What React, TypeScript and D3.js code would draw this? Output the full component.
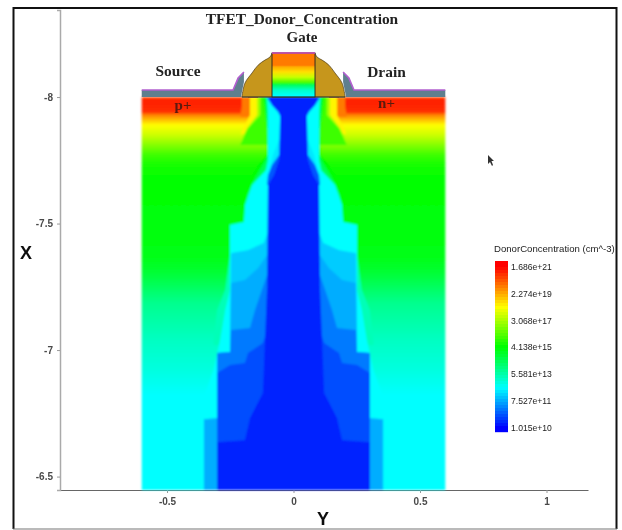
import React, { useEffect, useRef } from "react";
import * as d3 from "d3";

type Edge = [number, number][];

// color legend
const legendTitle = "DonorConcentration (cm^-3)";
const legendLabels = ["1.686e+21", "2.274e+19", "3.068e+17", "4.138e+15", "5.581e+13", "7.527e+11", "1.015e+10"];
const legendLogs = [21.227, 19.357, 17.487, 15.617, 13.747, 11.876, 10.006];
const rainbow = ["#0000ff", "#00ffff", "#00ff00", "#ffff00", "#ff0000"];

// concentration against depth, far from the channel
const bulkDepth = [-8, -7.988, -7.949, -7.941, -7.929, -7.909, -7.889, -7.85, -7.81, -7.771, -7.731, -7.672, -7.375, -7.308, -7.186, -7.04, -6.921, -6.822, -6.447];
const bulkLog = [20.33, 20.89, 20.75, 20.7, 19.8, 19.1, 18.42, 17.86, 17.07, 16.29, 15.84, 15.62, 15.4, 15.06, 14.05, 13.48, 13.15, 12.81, 12.81];

// concentration against depth inside the gate
const gateDepth = [-8.174, -8.126, -8.119, -8.099, -8.079, -8.059, -8.047, -8.028, -8.004];
const gateLog = [19.88, 19.88, 19.32, 18.76, 17.82, 16.51, 14.56, 13.42, 12.81];

// iso-concentration edges: [depth X, half width in Y]
const edgeOrange: Edge = [[-8, 0.2036], [-7.968, 0.2036], [-7.937, 0.208], [-7.921, 0.211]];
const edgeYellow: Edge = [[-8, 0.172], [-7.929, 0.172], [-7.877, 0.2], [-7.854, 0.208]];
const edgeLime: Edge = [[-8, 0.144], [-7.929, 0.144], [-7.877, 0.184], [-7.83, 0.208]];
const edgeSpringLime: Edge = [[-8, 0.132], [-7.929, 0.132], [-7.877, 0.18], [-7.81, 0.211]];
const edgeGreen: Edge = [[-8, 0.121], [-7.929, 0.113], [-7.877, 0.105], [-7.771, 0.105], [-7.731, 0.14], [-7.68, 0.172], [-7.632, 0.196], [-7.506, 0.2], [-7.498, 0.251], [-7.375, 0.251]];
const edgeSpring: Edge = [[-8, 0.113], [-7.87, 0.105], [-7.771, 0.101], [-7.731, 0.121], [-7.68, 0.152], [-7.613, 0.184], [-7.506, 0.196], [-7.498, 0.251], [-7.375, 0.251], [-7.296, 0.262], [-7.237, 0.27]];
const edgeSpringCyan: Edge = [[-7.498, 0.22], [-7.375, 0.251], [-7.237, 0.27], [-7.158, 0.302], [-7.04, 0.316], [-7.02, 0.316]];
const edgeCyan: Edge = [[-8, 0.105], [-7.929, 0.101], [-7.751, 0.101], [-7.711, 0.109], [-7.652, 0.164], [-7.573, 0.192], [-7.506, 0.196], [-7.494, 0.251], [-7.375, 0.251], [-7.237, 0.251], [-7.158, 0.27], [-7.04, 0.29], [-6.921, 0.316], [-6.822, 0.352]];
const edgePaleAzure: Edge = [[-7.83, 0.057], [-7.771, 0.081], [-7.68, 0.101], [-7.466, 0.101], [-7.423, 0.117], [-7.395, 0.18], [-7.383, 0.247]];
const edgeAzure: Edge = [[-7.466, 0.101], [-7.423, 0.117], [-7.395, 0.18], [-7.383, 0.247], [-6.992, 0.251], [-6.988, 0.302], [-6.731, 0.302], [-6.727, 0.354], [-6.447, 0.354]];
const edgeDeepAzure: Edge = [[-7.375, 0.105], [-7.324, 0.14], [-7.277, 0.192], [-7.265, 0.247], [-6.992, 0.251], [-6.988, 0.302], [-6.731, 0.302], [-6.727, 0.354], [-6.447, 0.354]];
const edgeBlue: Edge = [[-7.296, 0.105], [-7.237, 0.125], [-7.158, 0.152], [-7.087, 0.172], [-7.079, 0.247], [-6.992, 0.251], [-6.988, 0.302], [-6.909, 0.302]];
const edgeDeepBlue: Edge = [[-7.079, 0.105], [-7.028, 0.121], [-6.988, 0.18], [-6.949, 0.192], [-6.941, 0.251], [-6.909, 0.302], [-6.447, 0.302]];
const edgeNeck: Edge = [[-7.771, 0.057], [-7.731, 0.085], [-7.692, 0.101], [-7.652, 0.105]];
const edgeCore: Edge = [[-8, 0.105], [-7.968, 0.085], [-7.941, 0.061], [-7.925, 0.053], [-7.751, 0.057], [-7.692, 0.077], [-7.652, 0.101], [-7.237, 0.105], [-6.83, 0.121], [-6.731, 0.172], [-6.644, 0.192], [-6.636, 0.302], [-6.447, 0.302]];

const isoBands: { log: number; edge: Edge }[] = [
  { log: 19.88, edge: edgeOrange },
  { log: 18.53, edge: edgeYellow },
  { log: 17.41, edge: edgeLime },
  { log: 16.29, edge: edgeSpringLime },
  { log: 15.62, edge: edgeGreen },
  { log: 14.72, edge: edgeSpring },
  { log: 13.6, edge: edgeSpringCyan },
  { log: 12.81, edge: edgeCyan },
  { log: 12.55, edge: edgePaleAzure },
  { log: 12.25, edge: edgeAzure },
  { log: 11.91, edge: edgeDeepAzure },
  { log: 11.35, edge: edgeBlue },
  { log: 10.85, edge: edgeDeepBlue },
  { log: 10.95, edge: edgeNeck },
  { log: 10.36, edge: edgeCore },
];

// device outline, [depth X, half width in Y]
const spacerEdge: Edge = [[-8.174, 0.085], [-8.158, 0.093], [-8.146, 0.113], [-8.126, 0.14], [-8.095, 0.164], [-8.055, 0.192], [-8, 0.204]];
const oxideEdge: Edge = [[-8.028, 0.6], [-8.028, 0.239], [-8.075, 0.219], [-8.099, 0.196], [-8.059, 0.196], [-8.02, 0.204], [-8, 0.2075], [-8, 0.6]];
const gateHalfWidth = 0.085;
const gateTop = -8.174;
const deviceHalfWidth = 0.6;
const surface = -8;
const bottomX = -6.447;

export default function App() {
  const ref = useRef<SVGSVGElement>(null);

  useEffect(() => {
    const svg = d3.select(ref.current);
    svg.selectAll("*").remove();

    const xScale = d3.scaleLinear().domain([-0.923, 1.164]).range([60, 588]);
    const yScale = d3.scaleLinear().domain([-8.344, bottomX]).range([10, 490]);
    const color = d3.scaleLinear<string>()
      .domain(d3.range(5).map(i => 10.006 + (i * (21.227 - 10.006)) / 4))
      .range(rainbow)
      .clamp(true);

    const defs = svg.append("defs");
    defs.append("filter").attr("id", "soft").append("feGaussianBlur").attr("stdDeviation", 0.9);
    defs.append("filter").attr("id", "softText").append("feGaussianBlur").attr("stdDeviation", 0.3);

    const addGradient = (id: string, depth: number[], logs: number[]) => {
      const [y0, y1] = [yScale(depth[0]), yScale(depth[depth.length - 1])];
      defs.append("linearGradient")
        .attr("id", id)
        .attr("gradientUnits", "userSpaceOnUse")
        .attr("x1", 0).attr("x2", 0).attr("y1", y0).attr("y2", y1)
        .selectAll("stop")
        .data(depth)
        .join("stop")
        .attr("offset", d => (yScale(d) - y0) / (y1 - y0))
        .attr("stop-color", (d, i) => color(logs[i]));
    };
    addGradient("bulk", bulkDepth, bulkLog);
    addGradient("gate", gateDepth, gateLog);

    // frame of the screenshot
    svg.append("path").attr("d", "M13.5,529 V8 H616.5 V529")
      .attr("fill", "none").attr("stroke", "#111").attr("stroke-width", 2);
    svg.append("line").attr("x1", 13).attr("x2", 617).attr("y1", 529).attr("y2", 529)
      .attr("stroke", "#777").attr("stroke-width", 1.2);

    // axes
    const axisBottom = svg.append("g").attr("transform", `translate(0,${yScale.range()[1]})`)
      .call(d3.axisBottom(xScale).tickValues([-0.5, 0, 0.5, 1]).tickFormat(d3.format("~g") as any).tickSize(3).tickSizeOuter(0));
    const axisLeft = svg.append("g").attr("transform", `translate(${xScale.range()[0]},0)`)
      .call(d3.axisLeft(yScale).tickValues([-8, -7.5, -7, -6.5]).tickFormat(d3.format("~g") as any).tickSize(3));
    [axisBottom, axisLeft].forEach(a => {
      a.selectAll("text")
        .attr("font-family", "Liberation Sans")
        .attr("font-size", 10)
        .attr("font-weight", 700)
        .attr("fill", "#4a4a4a")
        .attr("filter", "url(#softText)")
        .text(function () { return d3.select(this).text().replace("\u2212", "-"); });
      a.selectAll("line").attr("stroke", "#999");
    });
    axisBottom.select(".domain").attr("stroke", "#666").attr("stroke-width", 1);
    axisLeft.select(".domain").attr("stroke", "#aaa").attr("stroke-width", 1.5);
    axisLeft.selectAll("text").attr("x", -7);
    axisBottom.selectAll("text").attr("y", 8);

    // concentration field
    const field = svg.append("g").attr("filter", "url(#soft)");
    field.append("rect")
      .attr("x", xScale(-deviceHalfWidth))
      .attr("y", yScale(surface))
      .attr("width", xScale(deviceHalfWidth) - xScale(-deviceHalfWidth))
      .attr("height", yScale(bottomX) - yScale(surface))
      .attr("fill", "url(#bulk)");

    const band = d3.area<[number, number]>()
      .y(d => yScale(d[0]))
      .x0(d => xScale(-d[1]))
      .x1(d => xScale(d[1]));

    field.selectAll("path.iso")
      .data(isoBands)
      .join("path")
      .attr("class", "iso")
      .attr("d", d => band(d.edge))
      .attr("fill", d => color(d.log));

    // oxide and contacts on both sides
    const device = svg.append("g").attr("filter", "url(#softText)");
    [-1, 1].forEach(side => {
      const outline = d3.line<[number, number]>()
        .x(d => xScale(side * d[1]))
        .y(d => yScale(d[0]));
      device.append("path").attr("d", outline(oxideEdge) + "Z").attr("fill", "#5f7f8e");
      device.append("path").attr("d", outline(oxideEdge.slice(0, 4)))
        .attr("fill", "none").attr("stroke", "#b35fd0").attr("stroke-width", 1.6);
      device.append("path")
        .attr("d", outline([[surface, 0.18], [surface, 0.14]]))
        .attr("stroke", "#d8402a").attr("stroke-width", 1.2);
    });

    // spacer and gate
    device.append("path")
      .attr("d", band.curve(d3.curveCatmullRom)(spacerEdge))
      .attr("fill", "#c6961e").attr("stroke", "#4a3a18").attr("stroke-width", 0.7);
    band.curve(d3.curveLinear);
    device.append("rect")
      .attr("x", xScale(-gateHalfWidth))
      .attr("y", yScale(gateTop))
      .attr("width", xScale(gateHalfWidth) - xScale(-gateHalfWidth))
      .attr("height", yScale(surface) - yScale(gateTop))
      .attr("fill", "url(#gate)")
      .attr("stroke", "#222").attr("stroke-width", 0.9);
    device.append("line")
      .attr("x1", xScale(-gateHalfWidth)).attr("x2", xScale(gateHalfWidth))
      .attr("y1", yScale(gateTop)).attr("y2", yScale(gateTop))
      .attr("stroke", "#d050c0").attr("stroke-width", 1.6);
    device.append("line")
      .attr("x1", xScale(-0.204)).attr("x2", xScale(0.204))
      .attr("y1", yScale(surface)).attr("y2", yScale(surface))
      .attr("stroke", "#2a3a40").attr("stroke-width", 0.8);

    // labels
    const labels: [string, number, number, number, string, string, number][] = [
      ["TFET_Donor_Concentration", 302, 24, 15.4, "Liberation Serif", "#222", 700],
      ["Gate", 302, 42, 15, "Liberation Serif", "#222", 700],
      ["Source", 178, 76, 15.4, "Liberation Serif", "#222", 700],
      ["Drain", 386.5, 77, 15.4, "Liberation Serif", "#222", 700],
      ["p+", 183, 110, 15, "Liberation Serif", "#5a1a10", 700],
      ["n+", 386.5, 108, 15, "Liberation Serif", "#5a1a10", 700],
      ["X", 26, 259, 18, "Liberation Sans", "#111", 700],
      ["Y", 323, 525, 18, "Liberation Sans", "#111", 700],
    ];
    svg.append("g").attr("filter", "url(#softText)")
      .selectAll("text")
      .data(labels)
      .join("text")
      .attr("x", d => d[1])
      .attr("y", d => d[2])
      .attr("font-size", d => d[3])
      .attr("font-family", d => d[4])
      .attr("fill", d => d[5])
      .attr("font-weight", d => d[6])
      .attr("text-anchor", "middle")
      .text(d => d[0]);

    // legend
    const legendY = d3.scaleLinear().domain([10.006, 21.227]).range([428, 267]);
    const cells = d3.range(261, 432, 3);
    const legend = svg.append("g").attr("filter", "url(#softText)");
    legend.selectAll("rect")
      .data(cells)
      .join("rect")
      .attr("x", 495)
      .attr("y", d => d)
      .attr("width", 13)
      .attr("height", 3.2)
      .attr("fill", d => color(legendY.invert(d + 1.5)));
    legend.append("text")
      .attr("x", 494).attr("y", 252)
      .attr("font-family", "Liberation Sans").attr("font-size", 9.6).attr("fill", "#222")
      .text(legendTitle);
    legend.selectAll("text.tick")
      .data(legendLabels)
      .join("text")
      .attr("class", "tick")
      .attr("x", 511)
      .attr("y", (d, i) => legendY(legendLogs[i]) + 3)
      .attr("font-family", "Liberation Sans").attr("font-size", 8.6).attr("fill", "#222")
      .text(d => d);

    // stray mouse pointer in the screenshot
    svg.append("path")
      .attr("d", "M488,155 L488,164 L490,162 L492,166 L493,165 L491.5,161 L494,161 Z")
      .attr("fill", "#333").attr("filter", "url(#softText)");
  }, []);

  return (
    <svg
      ref={ref}
      width={622}
      height={530}
      style={{ position: "absolute", left: 0, top: 0, display: "block", background: "white" }}
    />
  );
}
